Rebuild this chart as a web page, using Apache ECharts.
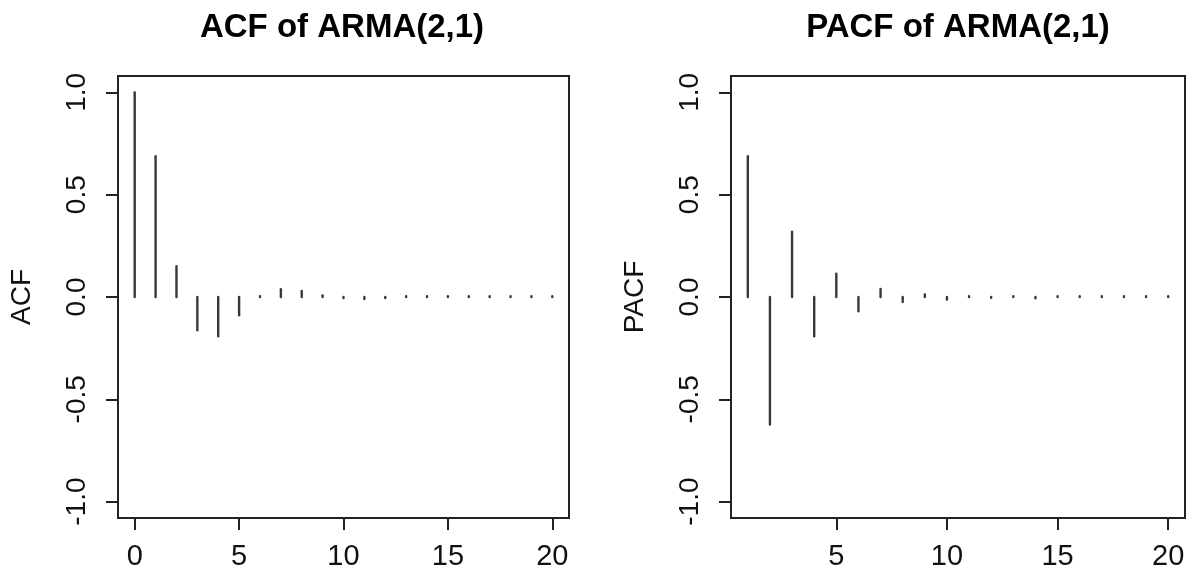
<!DOCTYPE html>
<html>
<head>
<meta charset="utf-8">
<script src="https://cdn.jsdelivr.net/npm/echarts@6/dist/echarts.min.js"></script>
<style>
  html, body { margin: 0; padding: 0; background: #fff; }
  #chart { width: 1194px; height: 571px; }
</style>
</head>
<body>
<div id="chart"></div>
<script>
// Sample autocorrelation / partial autocorrelation of a simulated ARMA(2,1) series
const acfLags = [0, 1, 2, 3, 4, 5, 6, 7, 8, 9, 10, 11, 12, 13, 14, 15, 16, 17, 18, 19, 20];
const acfValues = [1.0, 0.688, 0.151, -0.163, -0.192, -0.089, 0.004, 0.038, 0.030, 0.008, -0.005,
                   -0.010, -0.005, 0.004, 0.004, 0.004, 0.004, 0.004, 0.004, 0.004, 0.004];

const pacfLags = [1, 2, 3, 4, 5, 6, 7, 8, 9, 10, 11, 12, 13, 14, 15, 16, 17, 18, 19, 20];
const pacfValues = [0.688, -0.623, 0.319, -0.192, 0.114, -0.070, 0.039, -0.025, 0.012, -0.012,
                    0.004, -0.004, 0.004, -0.006, 0.004, 0.004, 0.004, 0.004, 0.004, 0.004];

const acfXTicks = [0, 5, 10, 15, 20];
const pacfXTicks = [5, 10, 15, 20];
const yTicks = [-1.0, -0.5, 0.0, 0.5, 1.0];

const panelTitles = ['ACF of ARMA(2,1)', 'PACF of ARMA(2,1)'];
const yNames = ['ACF', 'PACF'];

const FONT = '"Liberation Sans", Arial, Helvetica, sans-serif';
const INK = '#222';

// vertical stems from zero to each lag's value (R's type = "h")
function stemItem(params, api) {
  const x = api.value(0);
  const v = api.value(1);
  const p0 = api.coord([x, 0]);
  const p1 = api.coord([x, v]);
  return {
    type: 'line',
    shape: { x1: p0[0], y1: p0[1], x2: p1[0], y2: p1[1] },
    style: { stroke: '#383838', lineWidth: 2.4, lineCap: 'round' }
  };
}

function xAxisFor(gridIndex, min, max, ticks) {
  return {
    type: 'value', gridIndex, min, max,
    axisLine: { show: false, onZero: false },
    splitLine: { show: false },
    axisTick: { show: true, length: 12, customValues: ticks, lineStyle: { color: INK, width: 2 } },
    axisLabel: {
      customValues: ticks, margin: 24, fontSize: 29, color: '#111', fontFamily: FONT,
      formatter: v => String(v)
    }
  };
}

function yAxisFor(gridIndex, name) {
  return {
    type: 'value', gridIndex, min: -1.08, max: 1.08,
    name, nameLocation: 'middle', nameRotate: 90, nameGap: 82,
    nameTextStyle: { fontSize: 28, color: '#111', fontFamily: FONT },
    axisLine: { show: false, onZero: false },
    splitLine: { show: false },
    axisTick: { show: true, length: 12, customValues: yTicks, lineStyle: { color: INK, width: 2 } },
    axisLabel: {
      customValues: yTicks, rotate: 90, margin: 27, fontSize: 28, color: '#111', fontFamily: FONT,
      formatter: v => v.toFixed(1)
    }
  };
}

const chart = echarts.init(document.getElementById('chart'), null, { renderer: 'canvas' });

chart.setOption({
  backgroundColor: '#fff',
  animation: false,
  title: [
    { text: panelTitles[0], left: 342, top: 11, textAlign: 'center', padding: 0,
      textStyle: { fontSize: 33, fontWeight: 'bold', color: '#000', fontFamily: FONT } },
    { text: panelTitles[1], left: 958, top: 11, textAlign: 'center', padding: 0,
      textStyle: { fontSize: 33, fontWeight: 'bold', color: '#000', fontFamily: FONT } }
  ],
  grid: [
    { left: 118, top: 76, width: 451, height: 443, show: true, borderColor: INK, borderWidth: 2, backgroundColor: 'transparent' },
    { left: 731, top: 76, width: 454, height: 443, show: true, borderColor: INK, borderWidth: 2, backgroundColor: 'transparent' }
  ],
  xAxis: [
    xAxisFor(0, -0.8, 20.8, acfXTicks),
    xAxisFor(1, 0.24, 20.76, pacfXTicks)
  ],
  yAxis: [
    yAxisFor(0, yNames[0]),
    yAxisFor(1, yNames[1])
  ],
  series: [
    { type: 'custom', name: 'ACF', xAxisIndex: 0, yAxisIndex: 0, renderItem: stemItem,
      encode: { x: 0, y: 1 }, data: acfLags.map((l, i) => [l, acfValues[i]]) },
    { type: 'custom', name: 'PACF', xAxisIndex: 1, yAxisIndex: 1, renderItem: stemItem,
      encode: { x: 0, y: 1 }, data: pacfLags.map((l, i) => [l, pacfValues[i]]) }
  ]
});
</script>
</body>
</html>
